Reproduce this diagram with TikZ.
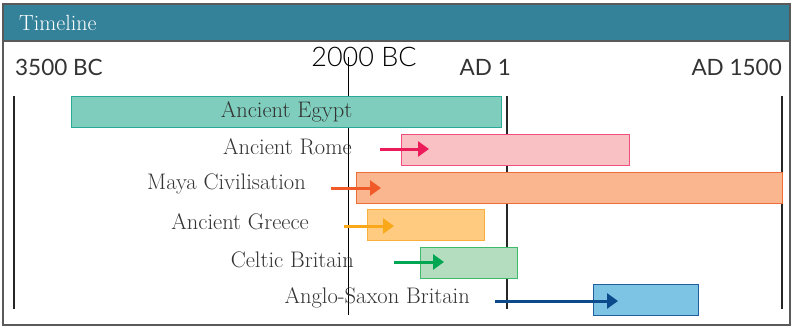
\documentclass[tikz,border=0pt]{standalone}
\usepackage{fontspec}
\usepackage{tikz}
\usetikzlibrary{arrows.meta, calc, positioning}

\newfontfamily\datefont{Lato}
\newfontfamily\thindate{Lato Light}

\definecolor{headteal}{HTML}{33829A}
\definecolor{framegray}{HTML}{5A5A5A}
\definecolor{egyptfill}{HTML}{7ECDBD}
\definecolor{egyptline}{HTML}{2AA898}
\definecolor{romefill}{HTML}{F9C1C3}
\definecolor{romeline}{HTML}{EE4F7C}
\definecolor{romearrow}{HTML}{EC1C5B}
\definecolor{mayafill}{HTML}{F9B68F}
\definecolor{mayaline}{HTML}{F26B3A}
\definecolor{mayaarrow}{HTML}{F15A29}
\definecolor{greecefill}{HTML}{FFCB80}
\definecolor{greeceline}{HTML}{FBB03B}
\definecolor{greecearrow}{HTML}{F9A81A}
\definecolor{celtfill}{HTML}{B3DDBE}
\definecolor{celtline}{HTML}{3EBA6C}
\definecolor{celtarrow}{HTML}{00A651}
\definecolor{saxonfill}{HTML}{7DC3E3}
\definecolor{saxonline}{HTML}{1F5F9E}
\definecolor{saxonarrow}{HTML}{0B4A8B}

\begin{document}
\begin{tikzpicture}[x=1pt, y=-1pt,
    bar/.style={draw, line width=1pt, inner sep=0pt, minimum height=31pt, anchor=north west},
    lab/.style={font=\fontsize{22.5}{22.5}\selectfont, text=black!80, anchor=east, inner sep=0pt},
    datelab/.style={font=\datefont\fontsize{22.5}{22.5}\selectfont, text=black!80, inner sep=0pt},
    era/.style={line width=2pt, black!85},
    push/.style={line width=3pt, -{Triangle[length=11pt, width=15pt]}}]

    \useasboundingbox (0,0) rectangle (792,327);

    % Draw the frame and the title band
    \fill[white] (3,4) rectangle (790,325);
    \fill[headteal] (3,4) rectangle (790,41);
    \draw[framegray, line width=1.2pt] (3,41) -- (790,41);
    \draw[framegray, line width=1.5pt] (3,4) rectangle (790,325);
    \node[font=\fontsize{22}{22}\selectfont, text=white, anchor=west, inner sep=0pt] (title) at (19,23) {Timeline};

    % Date labels along the top
    \node[datelab, anchor=west] (start) at (15,67) {3500 BC};
    \node[datelab, anchor=east] (adone) at (511,67) {AD 1};
    \node[datelab, anchor=east] (adlate) at (782,67) {AD 1500};
    \node[font=\thindate\fontsize{27}{27}\selectfont, inner sep=0pt] (mid) at (364,57) {2000 BC};

    % Era lines
    \draw[era] (14,96) -- (14,309);
    \draw[era] (507,96) -- (507,309);
    \draw[era] (782,96) -- (782,309);
    \draw[black, line width=0.8pt] (348,57) -- (348,315);

    % Draw the civilisation bars
    \node[bar, fill=egyptfill, draw=egyptline, minimum width=430pt,
          font=\fontsize{22.5}{22.5}\selectfont, text=black!80] (egypt) at (71,96) {Ancient Egypt};
    \node[bar, fill=romefill, draw=romeline, minimum width=228pt] (rome) at (401,134) {};
    \node[bar, fill=mayafill, draw=mayaline, minimum width=426pt] (maya) at (356,172) {};
    \node[bar, fill=greecefill, draw=greeceline, minimum width=117pt] (greece) at (367,209) {};
    \node[bar, fill=celtfill, draw=celtline, minimum width=97pt] (celt) at (420,247) {};
    \node[bar, fill=saxonfill, draw=saxonline, minimum width=105pt] (saxon) at (593,284) {};

    % Names on the left of each arrow
    \node[lab] (romelab) at (352,147) {Ancient Rome};
    \node[lab] (mayalab) at (306,184) {Maya Civilisation};
    \node[lab] (greecelab) at (309,222) {Ancient Greece};
    \node[lab] (celtlab) at (354,260) {Celtic Britain};
    \node[lab] (saxonlab) at (470,298) {Anglo-Saxon Britain};

    % Arrows running into the bars
    \coordinate (romein) at (380,149);
    \coordinate (mayain) at (331,188);
    \coordinate (greecein) at (344,226);
    \coordinate (celtin) at (394,262);
    \coordinate (saxonin) at (495,301);

    \draw[push, romearrow] (romein) -- ($(rome.west |- romein)+(28,0)$);
    \draw[push, mayaarrow] (mayain) -- ($(maya.west |- mayain)+(25,0)$);
    \draw[push, greecearrow] (greecein) -- ($(greece.west |- greecein)+(27,0)$);
    \draw[push, celtarrow] (celtin) -- ($(celt.west |- celtin)+(24,0)$);
    \draw[push, saxonarrow] (saxonin) -- ($(saxon.west |- saxonin)+(25,0)$);
\end{tikzpicture}
\end{document}
